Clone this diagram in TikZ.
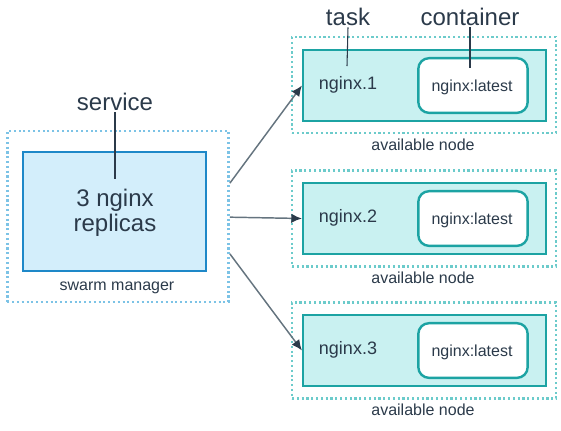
\documentclass[tikz,border=0pt]{standalone}
\usepackage{fontspec}
\setmainfont{Liberation Sans}
\usetikzlibrary{arrows.meta,positioning}
\definecolor{ink}{HTML}{2B3A4A}
\definecolor{mgrline}{HTML}{1E88C8}
\definecolor{mgrfill}{HTML}{D3EEFB}
\definecolor{mgrdot}{HTML}{7CC3E6}
\definecolor{nodeline}{HTML}{1CA3A3}
\definecolor{nodefill}{HTML}{C9F1F1}
\definecolor{nodedot}{HTML}{6CCBCB}
\definecolor{arrline}{HTML}{65747F}
\tikzset{
  box/.style={rectangle, draw, inner sep=0pt, text=ink, align=center},
  mgrbox/.style={box, draw=mgrline, fill=mgrfill, line width=1.8pt, minimum width=137pt, minimum height=89pt},
  mgrouter/.style={box, draw=mgrdot, line width=1.8pt, dash pattern=on 1.6pt off 2pt, minimum width=166pt, minimum height=128pt},
  taskbox/.style={box, draw=nodeline, fill=nodefill, line width=1.8pt, minimum width=182pt, minimum height=53pt},
  nodeouter/.style={box, draw=nodedot, line width=1.8pt, dash pattern=on 1.6pt off 2pt, minimum width=198pt, minimum height=72pt},
  ctrbox/.style={box, draw=nodeline, fill=white, line width=1.8pt, rounded corners=8pt, minimum width=82pt, minimum height=41pt},
  bigtxt/.style={text=ink, inner sep=1pt, align=center, font=\fontsize{18}{19}\selectfont},
  midtxt/.style={text=ink, inner sep=1pt, font=\fontsize{13.5}{16}\selectfont},
  smalltxt/.style={text=ink, inner sep=1pt, font=\fontsize{12}{14}\selectfont},
  pin/.style={draw=ink, line width=0.8pt},
  arr/.style={-{Latex[length=8pt,width=7pt,fill=ink,color=ink]}, draw=arrline, line width=1.1pt}
}
\begin{document}
\begin{tikzpicture}[x=0.75pt, y=-0.75pt]
\useasboundingbox (0,0) rectangle (561,430);

% swarm manager
\node[mgrouter] (mgrout) at (118,216.5) {};
\node[mgrbox] (mgr) at (114.5,211.5) {};
\node[bigtxt] (replicas) at (115,213) {3 nginx\\replicas};
\node[smalltxt] (mgrlbl) at (117,288) {swarm manager};
\node[bigtxt] (svc) at (115,102) {service};
\coordinate (svcpin) at (115,179);
\draw[pin] (svc.south) -- (svcpin);

% available nodes
\node[nodeouter] (node1) at (424,85) {};
\node[taskbox] (task1) at (424.5,85.5) {};
\node[ctrbox] (ctr1) at (473,85.5) {};
\node[midtxt] (t1) at (348,85) {nginx.1};
\node[smalltxt] (c1) at (472,87) {nginx:latest};
\node[smalltxt] (n1lbl) at (423,145) {available node};

\node[nodeouter] (node2) at (424,218.5) {};
\node[taskbox] (task2) at (424.5,218.5) {};
\node[ctrbox] (ctr2) at (473,218.5) {};
\node[midtxt] (t2) at (348,218) {nginx.2};
\node[smalltxt] (c2) at (472,220) {nginx:latest};
\node[smalltxt] (n2lbl) at (423,278) {available node};

\node[nodeouter] (node3) at (424,350.5) {};
\node[taskbox] (task3) at (424.5,350.5) {};
\node[ctrbox] (ctr3) at (473,350.5) {};
\node[midtxt] (t3) at (348,350) {nginx.3};
\node[smalltxt] (c3) at (472,352) {nginx:latest};
\node[smalltxt] (n3lbl) at (423,410) {available node};

% labels on top
\node[bigtxt] (tasklbl) at (348,17) {task};
\coordinate (taskpin) at (347,66);
\draw[pin] (tasklbl.south) -- (taskpin);
\node[bigtxt] (ctrlbl) at (470,17) {container};
\coordinate (ctrpin) at (470,68);
\draw[pin] (ctrlbl.south) -- (ctrpin);

% scheduling
\draw[arr] ([yshift=25pt]mgrout.east) -- (task1.west);
\draw[arr] ([yshift=-0.5pt]mgrout.east) -- (task2.west);
\draw[arr] ([yshift=-28pt]mgrout.east) -- (task3.west);
\end{tikzpicture}
\end{document}
